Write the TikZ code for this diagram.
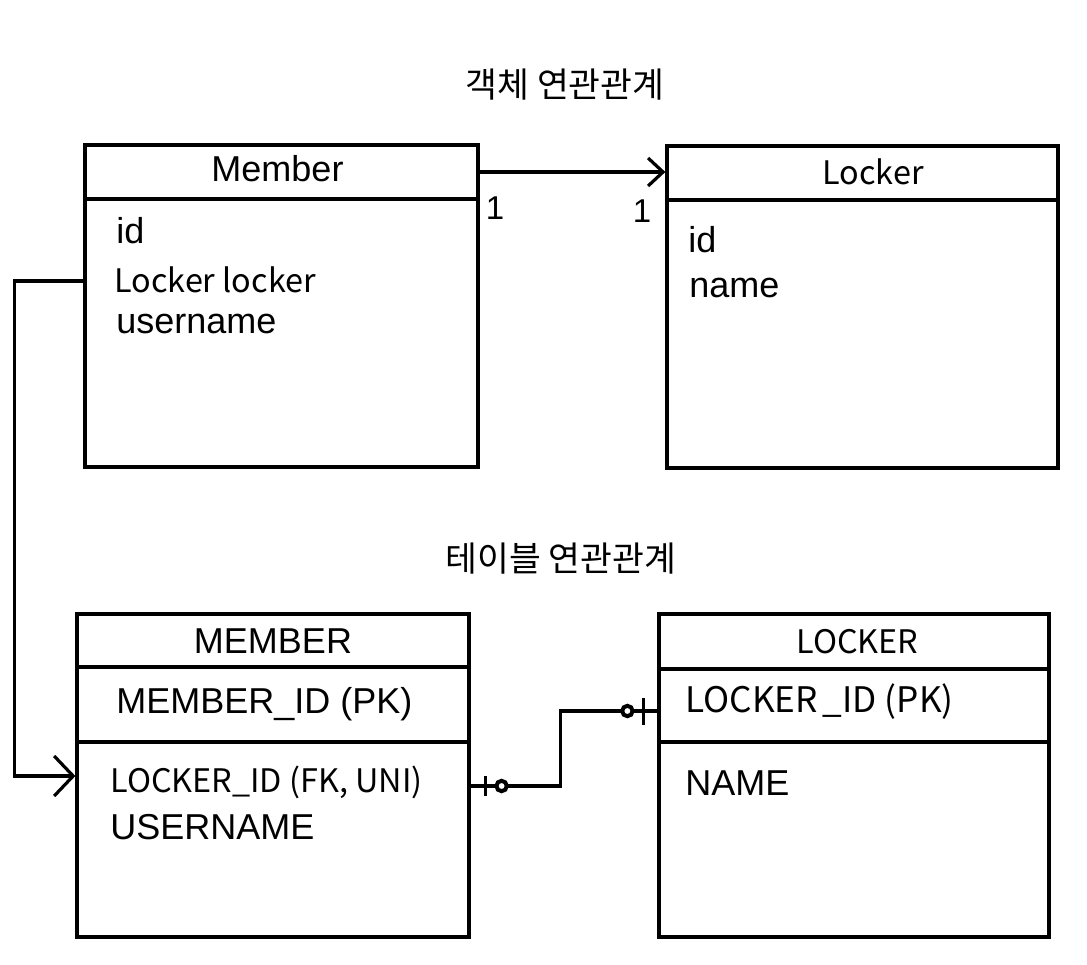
\documentclass[tikz,border=0pt]{standalone}
\usepackage{fontspec}
\setmainfont{Liberation Sans}
\newfontfamily\krfont{Noto Sans CJK KR}
\usetikzlibrary{arrows.meta,positioning}
\tikzset{
  entbox/.style={ draw, line width=1.6pt, inner sep=0pt }
}
\tikzset{
  conn/.style={ line width=1.6pt }
}
\tikzset{
  headtxt/.style={ anchor=base, inner sep=0pt, font=\fontsize{18}{21}\selectfont }
}
\tikzset{
  fieldtxt/.style={ anchor=base west, inner sep=0pt, font=\fontsize{18}{21}\selectfont }
}
\tikzset{
  kr/.style={ font=\krfont\fontsize{16.2}{19}\selectfont }
}
\tikzset{
  ttl/.style={ anchor=base, inner sep=0pt, font=\krfont\fontsize{17.3}{20}\selectfont }
}
\tikzset{
  mult/.style={ anchor=base, inner sep=0pt, font=\fontsize{16.5}{19}\selectfont }
}

\begin{document}
\begin{tikzpicture}[x=0.5pt,y=-0.5pt]
  \useasboundingbox (0,0) rectangle (1087,964);

  % object side
  \node[ttl] (ttlobj) at (565,97) {객체 연관관계};
  \node[entbox, minimum width=196.5pt, minimum height=161pt] (mem) at (281.5,306) {};
  \draw[conn] (mem.west |- 0,199) -- (mem.east |- 0,199);
  \node[headtxt] (memname) at (277.5,181) {Member};
  \node[fieldtxt] (memid) at (116,243) {id};
  \node[fieldtxt, kr] (memlocker) at (114,292) {Locker locker};
  \node[fieldtxt] (memuser) at (116,333) {username};

  \node[entbox, minimum width=195.5pt, minimum height=161pt] (lock) at (862.5,307) {};
  \draw[conn] (lock.west |- 0,200) -- (lock.east |- 0,200);
  \node[headtxt, kr] (lockname) at (873,184) {Locker};
  \node[fieldtxt] (lockid) at (688,252) {id};
  \node[fieldtxt] (lockfld) at (689,297) {name};

  \draw[conn, -{Straight Barb[length=7.5pt,width=14pt]}] (mem.east |- 0,172) -- (lock.west |- 0,172);
  \node[mult] (m1) at (495,219) {1};
  \node[mult] (m2) at (642,222) {1};

  % table side
  \node[ttl] (ttltbl) at (561,571) {테이블 연관관계};
  \node[entbox, minimum width=196pt, minimum height=161.5pt] (tblmem) at (273,775.5) {};
  \draw[conn] (tblmem.west |- 0,667) -- (tblmem.east |- 0,667);
  \draw[conn] (tblmem.west |- 0,742) -- (tblmem.east |- 0,742);
  \node[headtxt] (tblmemname) at (273,653) {MEMBER};
  \node[fieldtxt] (tblmempk) at (116,713) {MEMBER\_ID (PK)};
  \node[fieldtxt, kr] (tblmemfk) at (110,792) {LOCKER\_ID (FK, UNI)};
  \node[fieldtxt] (tblmemuser) at (110,839) {USERNAME};

  \node[entbox, minimum width=195pt, minimum height=161.5pt] (tbllock) at (854,775.5) {};
  \draw[conn] (tbllock.west |- 0,669) -- (tbllock.east |- 0,669);
  \draw[conn] (tbllock.west |- 0,742) -- (tbllock.east |- 0,742);
  \node[headtxt, kr] (tbllockname) at (857.5,653) {LOCKER};
  \node[fieldtxt, font=\krfont\fontsize{17.6}{20}\selectfont] (tbllockpk) at (685,712) {LOCKER\hspace{2.5pt}\_ID (PK)};
  \node[fieldtxt] (tbllockfld) at (685,795) {NAME};

  % mapping
  \draw[conn, -{Straight Barb[length=9.5pt,width=20pt]}] (mem.west |- 0,281) -- ++(-69,0) |- (tblmem.west |- 0,776);

  \coordinate (erm) at (tblmem.east |- 0,786);
  \coordinate (erl) at (tbllock.west |- 0,711);
  \draw[conn] (erm) -- ++(90,0) |- (erl);
  \draw[conn] ([shift={(15,-10)}]erm) -- ++(0,20);
  \draw[conn] ([shift={(-14,-13)}]erl) -- ++(0,27);
  \draw[line width=2pt, fill=white] ([shift={(31,0)}]erm) circle[radius=2.6pt];
  \draw[line width=2pt, fill=white] ([shift={(-30,0)}]erl) circle[radius=2.6pt];
\end{tikzpicture}
\end{document}
